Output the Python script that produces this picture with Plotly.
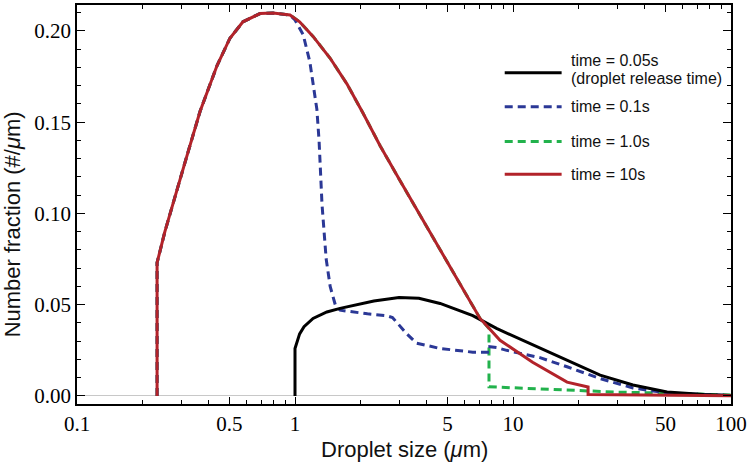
import plotly.graph_objects as go

# ---- data (droplet size in µm, number fraction #/µm) ----
size_10s = [0.233, 0.233, 0.253, 0.282, 0.313, 0.337, 0.367, 0.439, 0.503, 0.577, 0.691, 0.793, 0.949,
            1.05, 1.21, 1.45, 1.73, 2.05, 2.46, 3.03, 3.75, 4.63, 5.71, 7.06, 8.72, 12.3, 17.7, 22.1, 22.1,
            30, 50, 100]
frac_10s = [0, 0.073, 0.090, 0.110, 0.128, 0.141, 0.156, 0.181, 0.196, 0.205, 0.2095, 0.2098, 0.2087,
            0.205, 0.197, 0.185, 0.171, 0.155, 0.137, 0.118, 0.099, 0.080, 0.061, 0.0425, 0.0305, 0.0185,
            0.0076, 0.0049, 0.0008, 0.0006, 0.0003, 0.0001]

size_1s = [0.233, 0.233, 0.253, 0.282, 0.313, 0.337, 0.367, 0.439, 0.503, 0.577, 0.691, 0.793, 0.949,
           1.05, 1.21, 1.45, 1.73, 2.05, 2.46, 3.03, 3.75, 4.63, 5.71, 7.06, 7.76, 7.76, 8.7, 12, 20.2,
           30, 50.9, 75, 100]
frac_1s = [0, 0.073, 0.090, 0.110, 0.128, 0.141, 0.156, 0.181, 0.196, 0.205, 0.2095, 0.2098, 0.2087,
           0.205, 0.197, 0.185, 0.171, 0.155, 0.137, 0.118, 0.099, 0.080, 0.061, 0.0425, 0.037, 0.005,
           0.0048, 0.004, 0.0027, 0.0021, 0.0016, 0.0009, 0.0005]

size_01s = [0.233, 0.233, 0.253, 0.282, 0.313, 0.337, 0.367, 0.439, 0.503, 0.577, 0.691, 0.793, 0.949,
            1.0, 1.09, 1.17, 1.21, 1.26, 1.29, 1.33, 1.39, 1.45, 1.53, 1.61, 2.15, 2.63, 2.80, 3.26, 3.60,
            4.63, 6.54, 7.83, 7.83, 8.41, 9.35, 13.3, 17.7, 25.1, 35.5, 50.9, 100]
frac_01s = [0, 0.073, 0.090, 0.110, 0.128, 0.141, 0.156, 0.181, 0.196, 0.205, 0.2095, 0.2098, 0.2087,
            0.206, 0.198, 0.183, 0.170, 0.157, 0.1395, 0.105, 0.075, 0.060, 0.050, 0.047, 0.045, 0.044,
            0.043, 0.034, 0.029, 0.026, 0.024, 0.024, 0.027, 0.0265, 0.025, 0.021, 0.016, 0.0095, 0.0044,
            0.0016, 0.0002]

size_005s = [1.0, 1.0, 1.05, 1.1, 1.21, 1.4, 1.61, 2.0, 2.3, 3.0, 3.7, 4.63, 6.54, 8.4, 12.3, 17.7,
             25.1, 35.5, 50.9, 75, 100]
frac_005s = [0, 0.026, 0.034, 0.038, 0.0425, 0.046, 0.048, 0.0505, 0.052, 0.054, 0.0535, 0.0507, 0.044,
             0.037, 0.028, 0.0196, 0.0114, 0.006, 0.0022, 0.0008, 0.0002]

x_tickvals = [0.1, 0.5, 1, 5, 10, 50, 100]
x_ticktext = ["0.1", "0.5", "1", "5", "10", "50", "100"]
x_minorvals = [0.2, 0.3, 0.4, 0.6, 0.7, 0.8, 0.9, 2, 3, 4, 6, 7, 8, 9, 20, 30, 40, 60, 70, 80, 90]
y_tickvals = [0.0, 0.05, 0.10, 0.15, 0.20]
y_ticktext = ["0.00", "0.05", "0.10", "0.15", "0.20"]

legend_labels = [["time = 0.05s", "(droplet release time)"], ["time = 0.1s"], ["time = 1.0s"], ["time = 10s"]]

BLACK = "#000000"
BLUE = "#2B3896"
GREEN = "#22B24C"
RED = "#B2232A"
SANS = "Liberation Sans"
SERIF = "Liberation Serif"

fig = go.Figure()
fig.add_trace(go.Scatter(x=size_1s, y=frac_1s, mode="lines",
                         line=dict(color=GREEN, width=3, dash="8px,5px"), showlegend=False))
fig.add_trace(go.Scatter(x=size_01s, y=frac_01s, mode="lines",
                         line=dict(color=BLUE, width=3, dash="8px,5px"), showlegend=False))
fig.add_trace(go.Scatter(x=size_005s, y=frac_005s, mode="lines",
                         line=dict(color=BLACK, width=3), showlegend=False))
fig.add_trace(go.Scatter(x=size_10s, y=frac_10s, mode="lines",
                         line=dict(color=RED, width=3), showlegend=False))

# manual legend
leg_styles = [(BLACK, "solid"), (BLUE, "8px,5px"), (GREEN, "8px,5px"), (RED, "solid")]
leg_y = [0.830, 0.745, 0.658, 0.576]
for (col, dash), yy, labs in zip(leg_styles, leg_y, legend_labels):
    fig.add_shape(type="line", xref="paper", yref="paper", x0=0.654, x1=0.741, y0=yy, y1=yy,
                  line=dict(color=col, width=3, dash=dash))
    if len(labs) == 1:
        positions = [yy]
    else:
        positions = [0.862, 0.816]
    for lab, py in zip(labs, positions):
        fig.add_annotation(xref="paper", yref="paper", x=0.752, y=py, xanchor="left", yanchor="middle",
                           text=lab, showarrow=False, align="left",
                           font=dict(family=SANS, size=16, color="#111111"))

fig.add_annotation(xref="paper", yref="paper", x=0.5, y=-0.115, yanchor="middle",
                   text="Droplet size (<i>μ</i>m)", showarrow=False,
                   font=dict(family=SANS, size=22, color="#111111"))
fig.add_annotation(xref="paper", yref="paper", x=-0.098, y=0.45, xanchor="center", yanchor="middle",
                   text="Number fraction (#/<i>μ</i>m)", showarrow=False, textangle=-90,
                   font=dict(family=SANS, size=22, color="#111111"))

axis_common = dict(showline=True, linecolor="black", linewidth=1.5, mirror="allticks",
                   ticks="inside", tickcolor="black", showgrid=False,
                   tickfont=dict(family=SERIF, size=21, color="black"))

fig.update_xaxes(type="log", range=[-1, 2], tickvals=x_tickvals, ticktext=x_ticktext,
                 ticklen=7, tickwidth=1.2, zeroline=False,
                 minor=dict(tickvals=x_minorvals, ticks="inside", ticklen=4, tickcolor="black", tickwidth=1),
                 **axis_common)
fig.update_yaxes(range=[-0.0044, 0.2142], tickvals=y_tickvals, ticktext=y_ticktext,
                 ticklen=8, tickwidth=1.2, zeroline=True, zerolinecolor="#C8C8C8", zerolinewidth=1.2,
                 minor=dict(dtick=0.01, ticks="inside", ticklen=4, tickcolor="black", tickwidth=1),
                 **axis_common)

fig.update_layout(width=750, height=472, margin=dict(l=77, r=19, t=3, b=68),
                  plot_bgcolor="white", paper_bgcolor="white", showlegend=False,
                  font=dict(family=SANS))

fig.write_html("out.html", config={"displayModeBar": False},
               post_script="document.body.style.margin='0';")
